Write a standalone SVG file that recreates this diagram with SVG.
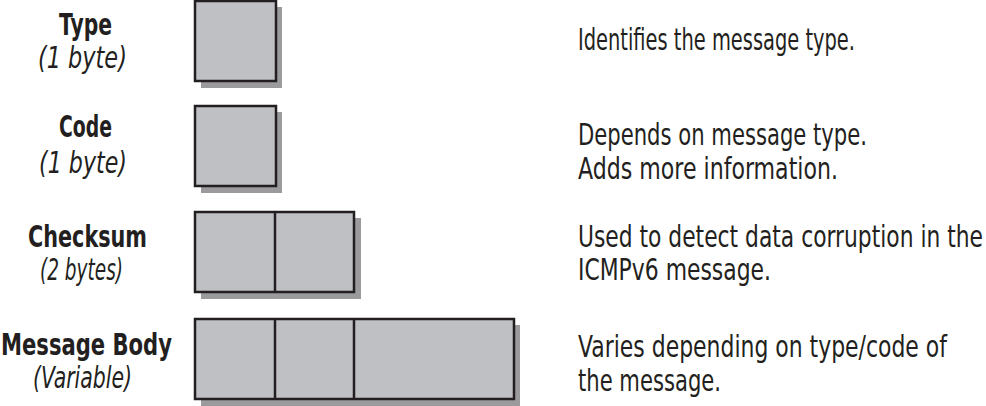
<svg xmlns="http://www.w3.org/2000/svg" width="986" height="406" viewBox="0 0 986 406">
<defs>
<style>
text{font-family:"DejaVu Sans","Liberation Sans",sans-serif;font-size:30px;fill:#231f20}
.b{font-weight:bold}
.i{font-style:italic}
.box{fill:#bfc0c4;stroke:#231f20;stroke-width:2.5}
.sh{fill:#9b9b9d}
.div{stroke:#231f20;stroke-width:2.5}
</style>
</defs>
<rect width="986" height="406" fill="#fff"/>
<g id="type">
<rect class="sh" x="201" y="7" width="81" height="81"/>
<rect class="box" x="195" y="1" width="81" height="80"/>
<text class="b" transform="translate(59,35) scale(0.7,1)" textLength="75.7" lengthAdjust="spacingAndGlyphs">Type</text>
<text class="i" transform="translate(38,68) scale(0.7,1)" textLength="127" lengthAdjust="spacingAndGlyphs">(1 byte)</text>
<text transform="translate(578,50) scale(0.7,1)" textLength="395.7" lengthAdjust="spacingAndGlyphs">Identifies the message type.</text>
</g>
<g id="code">
<rect class="sh" x="201" y="112" width="81" height="81"/>
<rect class="box" x="195" y="106" width="81" height="80"/>
<text class="b" transform="translate(59,137) scale(0.7,1)" textLength="75.7" lengthAdjust="spacingAndGlyphs">Code</text>
<text class="i" transform="translate(39,173) scale(0.7,1)" textLength="125.7" lengthAdjust="spacingAndGlyphs">(1 byte)</text>
<text transform="translate(578,145) scale(0.7,1)" textLength="412.9" lengthAdjust="spacingAndGlyphs">Depends on message type.</text>
<text transform="translate(578,179) scale(0.7,1)" textLength="371.4" lengthAdjust="spacingAndGlyphs">Adds more information.</text>
</g>
<g id="checksum">
<rect class="sh" x="201" y="218" width="160" height="81"/>
<rect class="box" x="195" y="212" width="159" height="80"/>
<line class="div" x1="275" y1="212" x2="275" y2="292"/>
<text class="b" transform="translate(28,247) scale(0.7,1)" textLength="170" lengthAdjust="spacingAndGlyphs">Checksum</text>
<text class="i" transform="translate(40,280) scale(0.7,1)" textLength="118.6" lengthAdjust="spacingAndGlyphs">(2 bytes)</text>
<text transform="translate(578,247) scale(0.7,1)" textLength="578.6" lengthAdjust="spacingAndGlyphs">Used to detect data corruption in the</text>
<text transform="translate(578,280) scale(0.7,1)" textLength="275.7" lengthAdjust="spacingAndGlyphs">ICMPv6 message.</text>
</g>
<g id="body">
<rect class="sh" x="201" y="325" width="319" height="81"/>
<rect class="box" x="195" y="319" width="319" height="80"/>
<line class="div" x1="275" y1="319" x2="275" y2="399"/>
<line class="div" x1="354" y1="319" x2="354" y2="399"/>
<text class="b" transform="translate(1,355) scale(0.7,1)" textLength="244.3" lengthAdjust="spacingAndGlyphs">Message Body</text>
<text class="i" transform="translate(33,388) scale(0.7,1)" textLength="141.4" lengthAdjust="spacingAndGlyphs">(Variable)</text>
<text transform="translate(578,357) scale(0.7,1)" textLength="527.1" lengthAdjust="spacingAndGlyphs">Varies depending on type/code of</text>
<text transform="translate(578,391) scale(0.7,1)" textLength="204.3" lengthAdjust="spacingAndGlyphs">the message.</text>
</g>
<g id="connectors"/>
</svg>
